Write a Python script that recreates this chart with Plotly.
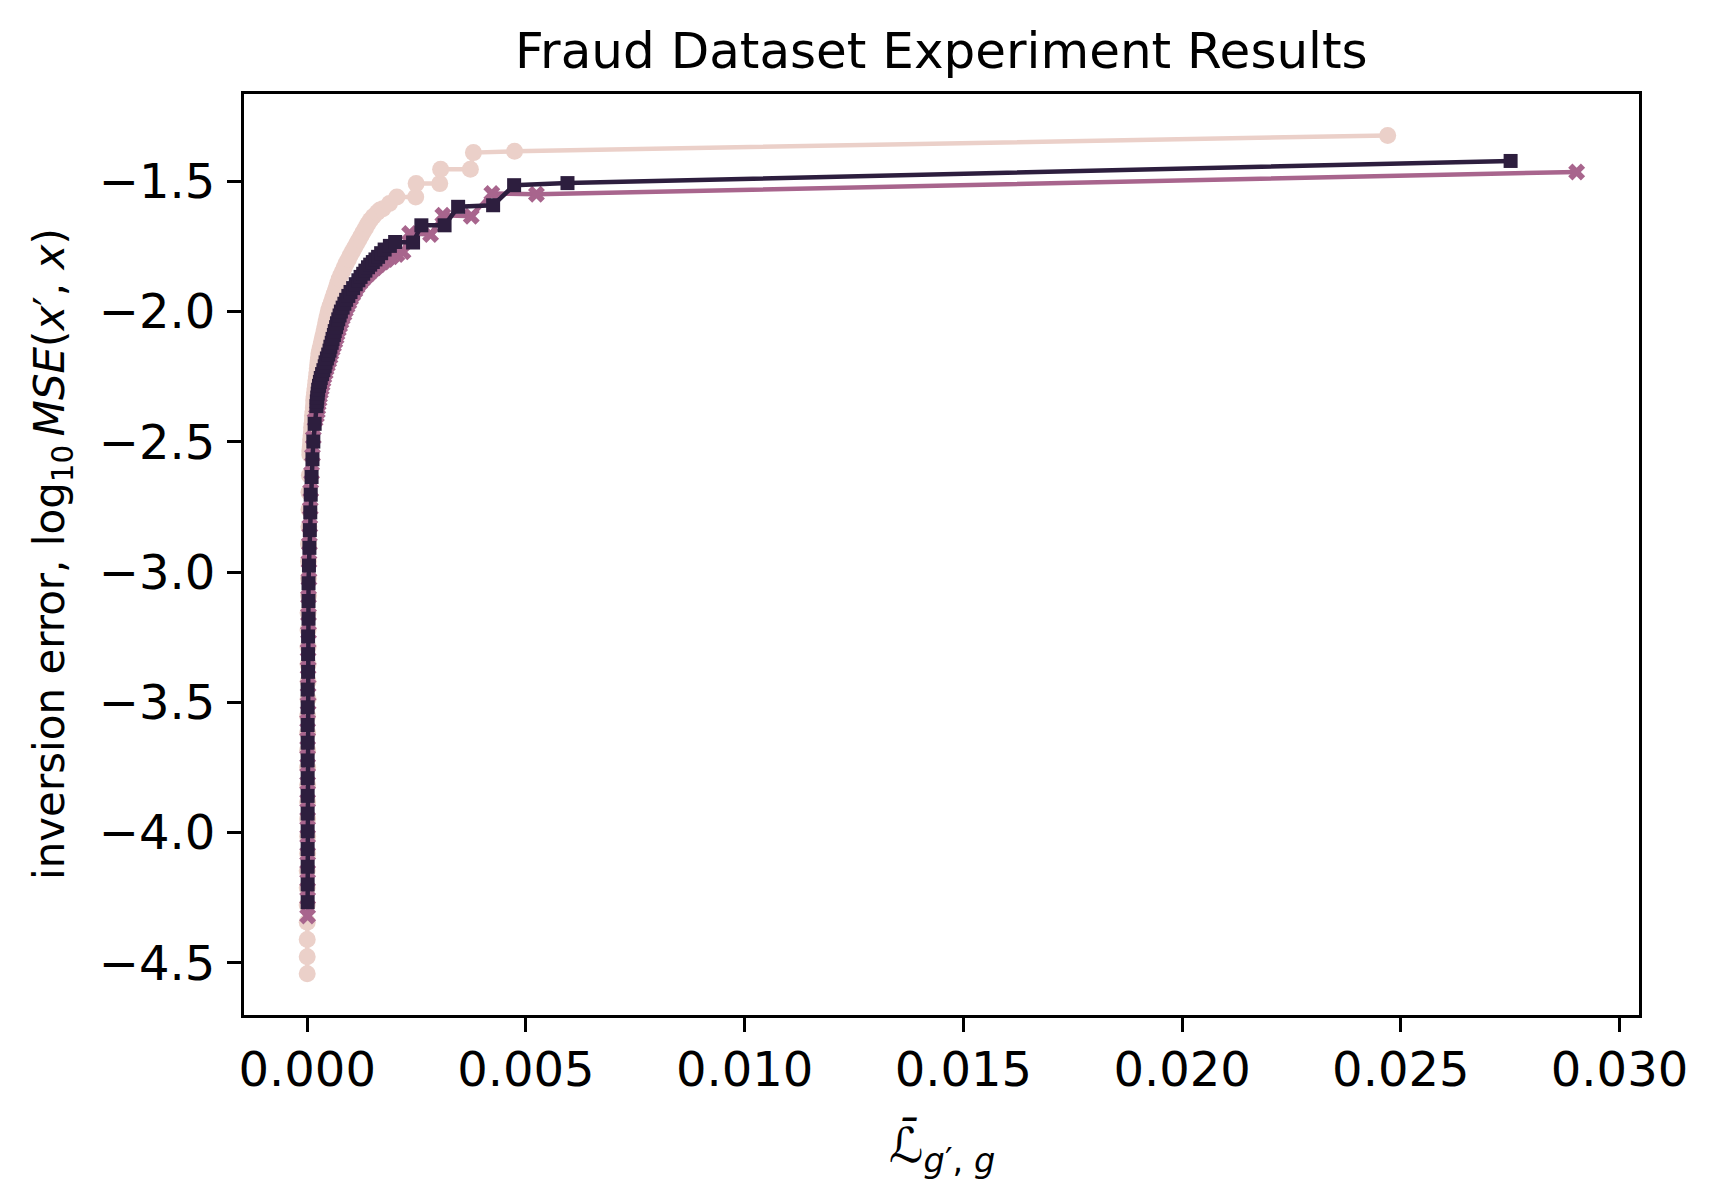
import plotly.graph_objects as go

# ---- data ----
# light pink series (circle markers)
pink_x = [0.0, 0.0, 0.0, 0.0, 0.0, 0.0, 0.0, 0.00001, 0.00001, 0.00001,
          0.00001, 0.00001, 0.00001, 0.00001, 0.00001, 0.00001, 0.00002, 0.00002, 0.00002, 0.00002,
          0.00002, 0.00002, 0.00003, 0.00003, 0.00003, 0.00003, 0.00004, 0.00004, 0.00004, 0.00005,
          0.00006, 0.00006, 0.00007, 0.00008, 0.00008, 0.00009, 0.00010, 0.00010, 0.00011, 0.00012,
          0.00012, 0.00013, 0.00014, 0.00015, 0.00015, 0.00016, 0.00017, 0.00018, 0.00019, 0.00020,
          0.00021, 0.00022, 0.00023, 0.00024, 0.00025, 0.00026, 0.00027, 0.00029, 0.00031, 0.00033,
          0.00035, 0.00037, 0.00039, 0.00041, 0.00043, 0.00045, 0.00047, 0.00049, 0.00052, 0.00055,
          0.00058, 0.00061, 0.00064, 0.00067, 0.00070, 0.00073, 0.00077, 0.00081, 0.00085, 0.00089,
          0.00094, 0.00098, 0.00103, 0.00108, 0.00113, 0.00118, 0.00123, 0.00128, 0.00133, 0.00138,
          0.00144, 0.00151, 0.00160, 0.00166, 0.00173, 0.00188, 0.00205, 0.00248, 0.00249, 0.00303,
          0.00305, 0.00373, 0.00380, 0.00474, 0.02470]
pink_y = [-4.542, -4.476, -4.410, -4.344, -4.278, -4.212, -4.146, -4.080, -4.014, -3.948,
          -3.882, -3.816, -3.750, -3.684, -3.618, -3.552, -3.486, -3.420, -3.354, -3.288,
          -3.222, -3.156, -3.090, -3.024, -2.958, -2.892, -2.826, -2.760, -2.694, -2.628,
          -2.550, -2.535, -2.520, -2.505, -2.490, -2.475, -2.460, -2.445, -2.430, -2.415,
          -2.400, -2.385, -2.370, -2.355, -2.340, -2.325, -2.310, -2.295, -2.280, -2.265,
          -2.250, -2.235, -2.220, -2.205, -2.190, -2.175, -2.160, -2.145, -2.130, -2.115,
          -2.100, -2.085, -2.070, -2.055, -2.040, -2.025, -2.010, -1.995, -1.980, -1.965,
          -1.950, -1.935, -1.920, -1.905, -1.890, -1.875, -1.860, -1.845, -1.830, -1.815,
          -1.800, -1.785, -1.770, -1.755, -1.740, -1.725, -1.710, -1.695, -1.680, -1.665,
          -1.650, -1.635, -1.620, -1.610, -1.605, -1.585, -1.560, -1.560, -1.509, -1.509,
          -1.454, -1.454, -1.390, -1.385, -1.324]

# mauve series (x markers)
mauve_x = [0.00001, 0.00001, 0.00001, 0.00001, 0.00001, 0.00001, 0.00001, 0.00001, 0.00001, 0.00001,
           0.00001, 0.00001, 0.00002, 0.00002, 0.00002, 0.00002, 0.00003, 0.00003, 0.00003, 0.00004,
           0.00004, 0.00005, 0.00006, 0.00007, 0.00008, 0.00010, 0.00012, 0.00014, 0.00018,
           0.00021, 0.00023, 0.00024, 0.00025, 0.00027, 0.00028, 0.00030, 0.00032, 0.00034, 0.00036,
           0.00038, 0.00041, 0.00043, 0.00046, 0.00049, 0.00052, 0.00054, 0.00057, 0.00060, 0.00063,
           0.00066, 0.00068, 0.00071, 0.00074, 0.00077, 0.00080, 0.00084, 0.00087, 0.00091, 0.00095,
           0.00099, 0.00104, 0.00109, 0.00114, 0.00120, 0.00126, 0.00132, 0.00140, 0.00147, 0.00155,
           0.00163, 0.00172, 0.00181, 0.00192, 0.00205, 0.00219, 0.00234, 0.00282, 0.00310, 0.00375,
           0.00422, 0.00524, 0.02902]
mauve_y = [-4.320, -4.252, -4.184, -4.116, -4.048, -3.980, -3.912, -3.844, -3.776, -3.708,
           -3.640, -3.572, -3.504, -3.436, -3.368, -3.300, -3.232, -3.164, -3.096, -3.028,
           -2.960, -2.892, -2.824, -2.756, -2.688, -2.620, -2.552, -2.484, -2.416,
           -2.400, -2.385, -2.370, -2.355, -2.340, -2.325, -2.310, -2.295, -2.280, -2.265,
           -2.250, -2.235, -2.220, -2.205, -2.190, -2.175, -2.160, -2.145, -2.130, -2.115,
           -2.100, -2.085, -2.070, -2.055, -2.040, -2.025, -2.010, -1.995, -1.980, -1.965,
           -1.950, -1.935, -1.920, -1.905, -1.890, -1.878, -1.867, -1.855, -1.843, -1.832,
           -1.820, -1.810, -1.800, -1.790, -1.781, -1.771, -1.700, -1.704, -1.630, -1.634,
           -1.547, -1.550, -1.464]

# dark series (square markers)
dark_x = [0.00001, 0.00001, 0.00001, 0.00001, 0.00001, 0.00001, 0.00001, 0.00001, 0.00001, 0.00001,
          0.00001, 0.00001, 0.00001, 0.00002, 0.00002, 0.00002, 0.00003, 0.00003, 0.00003, 0.00004,
          0.00005, 0.00006, 0.00007, 0.00008, 0.00010, 0.00012, 0.00014, 0.00017, 0.00021,
          0.00022, 0.00023, 0.00024, 0.00025, 0.00027, 0.00029, 0.00031, 0.00034, 0.00037, 0.00040,
          0.00042, 0.00045, 0.00048, 0.00051, 0.00053, 0.00056, 0.00058, 0.00061, 0.00063, 0.00066,
          0.00068, 0.00071, 0.00074, 0.00077, 0.00081, 0.00085, 0.00089, 0.00094, 0.00099, 0.00105,
          0.00111, 0.00117, 0.00122, 0.00128, 0.00133, 0.00139, 0.00144, 0.00150, 0.00156, 0.00162,
          0.00169, 0.00177, 0.00189, 0.00201, 0.00242, 0.00261, 0.00314, 0.00345, 0.00425, 0.00473,
          0.00595, 0.02751]
dark_y = [-4.267, -4.199, -4.131, -4.063, -3.995, -3.927, -3.859, -3.791, -3.723, -3.655,
          -3.587, -3.519, -3.451, -3.383, -3.315, -3.247, -3.179, -3.111, -3.043, -2.975,
          -2.907, -2.839, -2.771, -2.703, -2.635, -2.567, -2.499, -2.431, -2.363,
          -2.345, -2.330, -2.315, -2.300, -2.285, -2.270, -2.255, -2.240, -2.225, -2.210,
          -2.195, -2.180, -2.165, -2.150, -2.135, -2.120, -2.105, -2.090, -2.075, -2.060,
          -2.045, -2.030, -2.015, -2.000, -1.985, -1.970, -1.955, -1.940, -1.925, -1.910,
          -1.895, -1.880, -1.867, -1.855, -1.843, -1.830, -1.820, -1.810, -1.800, -1.790,
          -1.776, -1.762, -1.748, -1.733, -1.735, -1.669, -1.669, -1.598, -1.592, -1.515,
          -1.507, -1.422]

x_ticks = [0.000, 0.005, 0.010, 0.015, 0.020, 0.025, 0.030]
y_ticks = [-4.5, -4.0, -3.5, -3.0, -2.5, -2.0, -1.5]

PINK = "#ebd0c9"
MAUVE = "#a8658d"
DARK = "#2d1e3e"
FONT = "DejaVu Sans"

fig = go.Figure()
fig.add_trace(go.Scatter(x=pink_x, y=pink_y, mode="lines+markers",
                         line=dict(color=PINK, width=4.5),
                         marker=dict(symbol="circle", size=17, color=PINK, line=dict(width=0)),
                         showlegend=False))
fig.add_trace(go.Scatter(x=mauve_x, y=mauve_y, mode="lines+markers",
                         line=dict(color=MAUVE, width=4.5),
                         marker=dict(symbol="x", size=15, color=MAUVE, line=dict(width=0)),
                         showlegend=False))
fig.add_trace(go.Scatter(x=dark_x, y=dark_y, mode="lines+markers",
                         line=dict(color=DARK, width=4.5),
                         marker=dict(symbol="square", size=14, color=DARK, line=dict(width=0)),
                         showlegend=False))

OFF = 8.0  # page body margin in the screenshot
L, R, T, B = 243.5 - OFF, 1638.7 - OFF, 94.0 - OFF, 1015.0 - OFF
W, H = 1720, 1202


def px_x(p):
    return (p - OFF - L) / (R - L)


def px_y(p):
    return (B - (p - OFF)) / (B - T)


axis_common = dict(showline=True, linecolor="black", linewidth=3, mirror=True,
                   ticks="outside", ticklen=14, tickwidth=3, tickcolor="black",
                   showgrid=False, zeroline=False,
                   tickfont=dict(family=FONT, size=48, color="black"))

fig.update_layout(
    width=W, height=H,
    margin=dict(l=L, r=W - R, t=T, b=H - B, pad=0),
    paper_bgcolor="white", plot_bgcolor="white",
    xaxis=dict(range=[-0.001445, 0.030445], tickvals=x_ticks, tickformat=".3f",
               ticklabelstandoff=-4, **axis_common),
    yaxis=dict(range=[-4.70, -1.165], tickvals=y_ticks, tickformat=".1f",
               ticklabelstandoff=2, **axis_common),
    annotations=[
        dict(text="Fraud Dataset Experiment Results", xref="paper", yref="paper",
             x=0.5, y=px_y(51.5), xanchor="center", yanchor="middle",
             showarrow=False, font=dict(family=FONT, size=50, color="black")),
        dict(text="inversion error, log<sub>10</sub>\u2009<i>MSE</i>(<i>x</i>′, <i>x</i>)",
             xref="paper", yref="paper", x=px_x(52), y=0.5,
             xanchor="center", yanchor="middle", textangle=-90,
             showarrow=False, font=dict(family=FONT, size=42, color="black")),
        dict(text="<i>ℒ̄</i><sub><i>g</i>′, <i>g</i></sub>",
             xref="paper", yref="paper", x=0.5, y=px_y(1148),
             xanchor="center", yanchor="middle",
             showarrow=False, font=dict(family=FONT, size=48, color="black")),
    ],
)

fig.write_html("out.html")
